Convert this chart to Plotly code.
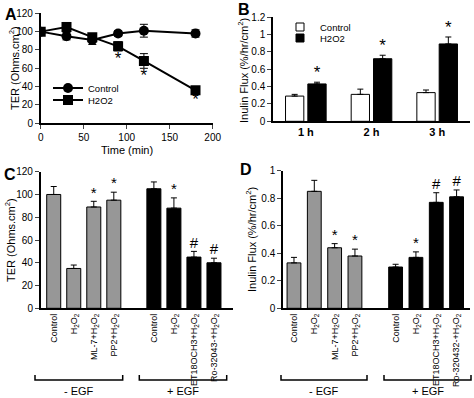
import plotly.graph_objects as go

# ---------------- data ----------------
# Panel A: TER time course
time_min = [0, 30, 60, 90, 120, 180]
ter_control = [100, 95, 91, 98, 101, 98]
ter_control_err = [2, 4, 5, 3, 7, 4]
ter_h2o2 = [100, 105, 94, 84, 68, 36]
ter_h2o2_err = [2, 5, 4, 5, 8, 2]
ter_h2o2_sig = ["", "", "", "*", "*", "*"]

# Panel B: inulin flux over time
b_categories = ["1 h", "2 h", "3 h"]
flux_control = [0.29, 0.31, 0.33]
flux_control_err = [0.02, 0.06, 0.03]
flux_h2o2 = [0.43, 0.72, 0.89]
flux_h2o2_err = [0.02, 0.04, 0.08]
flux_h2o2_sig = ["*", "*", "*"]

# Panel C: TER with inhibitors
c_labels = ["Control", "H<sub>2</sub>O<sub>2</sub>", "ML-7+H<sub>2</sub>O<sub>2</sub>",
            "PP2+H<sub>2</sub>O<sub>2</sub>", "Control", "H<sub>2</sub>O<sub>2</sub>",
            "ET18OCH3+H<sub>2</sub>O<sub>2</sub>", "Ro-32043-+H<sub>2</sub>O<sub>2</sub>"]
c_values = [100, 35, 89, 95, 105, 88, 45, 40]
c_err = [7, 3, 5, 7, 6, 9, 5, 4]
c_sig = ["", "", "*", "*", "", "*", "#", "#"]

# Panel D: inulin flux with inhibitors
d_labels = ["Control", "H<sub>2</sub>O<sub>2</sub>", "ML-7+H<sub>2</sub>O<sub>2</sub>",
            "PP2+H<sub>2</sub>O<sub>2</sub>", "Control", "H<sub>2</sub>O<sub>2</sub>",
            "ET18OCH3+H<sub>2</sub>O<sub>2</sub>", "Ro-320432-+H<sub>2</sub>O<sub>2</sub>"]
d_values = [0.33, 0.85, 0.44, 0.38, 0.30, 0.37, 0.77, 0.81]
d_err = [0.04, 0.08, 0.03, 0.05, 0.02, 0.04, 0.07, 0.05]
d_sig = ["", "", "*", "*", "", "*", "#", "#"]

group_names = ["- EGF", "+ EGF"]
group_sizes = [4, 4]

# ---------------- layout helpers ----------------
W, H = 474, 398
FONT = "Arial, Liberation Sans, sans-serif"
GRAY = "#979797"


def fx(p):
    return p / W


def fy(p):
    return 1 - p / H


def group_positions(sizes):
    pos, start = [], 0
    for s in sizes:
        pos += list(range(start, start + s))
        start += s + 1
    return pos


def bar_colors(sizes):
    cols = []
    for i, s in enumerate(sizes):
        cols += [GRAY if i == 0 else "black"] * s
    return cols


c_pos = group_positions(group_sizes)
d_pos = group_positions(group_sizes)
colors = bar_colors(group_sizes)

fig = go.Figure()

# ---------- Panel A ----------
fig.add_trace(go.Scatter(
    x=time_min, y=ter_control, name="Control", mode="lines+markers",
    line=dict(color="black", width=2), marker=dict(symbol="circle", size=10, color="black"),
    error_y=dict(type="data", array=ter_control_err, color="black", thickness=1, width=4),
    xaxis="x", yaxis="y", legend="legend"))
fig.add_trace(go.Scatter(
    x=time_min, y=ter_h2o2, name="H2O2", mode="lines+markers",
    line=dict(color="black", width=2), marker=dict(symbol="square", size=10, color="black"),
    error_y=dict(type="data", array=ter_h2o2_err, color="black", thickness=1, width=4),
    xaxis="x", yaxis="y", legend="legend3"))
fig.add_trace(go.Scatter(
    x=time_min, y=[v - e for v, e in zip(ter_h2o2, ter_h2o2_err)], text=ter_h2o2_sig,
    mode="text", textposition="bottom center", textfont=dict(size=17, color="black", family=FONT),
    showlegend=False, xaxis="x", yaxis="y", hoverinfo="skip"))

# ---------- Panel B ----------
fig.add_trace(go.Bar(
    x=b_categories, y=flux_control, name="Control", marker=dict(color="white", line=dict(color="black", width=1)),
    error_y=dict(type="data", array=flux_control_err, arrayminus=[0] * 3, symmetric=False,
                 color="black", thickness=1, width=3),
    xaxis="x2", yaxis="y2", showlegend=False))
fig.add_trace(go.Bar(
    x=b_categories, y=flux_h2o2, name="H2O2", marker=dict(color="black", line=dict(color="black", width=1)),
    error_y=dict(type="data", array=flux_h2o2_err, arrayminus=[0] * 3, symmetric=False,
                 color="black", thickness=1, width=3),
    xaxis="x2", yaxis="y2", showlegend=False))
fig.add_trace(go.Scatter(
    x=b_categories, y=[v + e for v, e in zip(flux_h2o2, flux_h2o2_err)], text=flux_h2o2_sig,
    mode="text", textposition="top center", textfont=dict(size=17, color="black", family=FONT),
    showlegend=False, xaxis="x5", yaxis="y2", hoverinfo="skip"))
fig.add_trace(go.Scatter(x=[None], y=[None], name="Control", mode="markers",
                         marker=dict(symbol="square", size=8, color="white", line=dict(color="black", width=1)),
                         xaxis="x2", yaxis="y2", legend="legend2"))
fig.add_trace(go.Scatter(x=[None], y=[None], name="H2O2", mode="markers",
                         marker=dict(symbol="square", size=8, color="black", line=dict(color="black", width=1)),
                         xaxis="x2", yaxis="y2", legend="legend4"))

# ---------- Panel C ----------
fig.add_trace(go.Bar(
    x=c_pos, y=c_values, width=0.7, marker=dict(color=colors, line=dict(color="black", width=1)),
    error_y=dict(type="data", array=c_err, arrayminus=[0] * len(c_err), symmetric=False,
                 color="black", thickness=1, width=3),
    xaxis="x3", yaxis="y3", showlegend=False))
fig.add_trace(go.Scatter(
    x=c_pos, y=[v + e for v, e in zip(c_values, c_err)], text=c_sig,
    mode="text", textposition="top center", textfont=dict(size=15, color="black", family=FONT),
    showlegend=False, xaxis="x3", yaxis="y3", hoverinfo="skip"))

# ---------- Panel D ----------
fig.add_trace(go.Bar(
    x=d_pos, y=d_values, width=0.68, marker=dict(color=colors, line=dict(color="black", width=1)),
    error_y=dict(type="data", array=d_err, arrayminus=[0] * len(d_err), symmetric=False,
                 color="black", thickness=1, width=3),
    xaxis="x4", yaxis="y4", showlegend=False))
fig.add_trace(go.Scatter(
    x=d_pos, y=[v + e for v, e in zip(d_values, d_err)], text=d_sig,
    mode="text", textposition="top center", textfont=dict(size=15, color="black", family=FONT),
    showlegend=False, xaxis="x4", yaxis="y4", hoverinfo="skip"))

axis_common = dict(showline=True, linecolor="black", linewidth=1.5, showgrid=False, zeroline=False,
                   automargin=False)
tickfont = dict(family=FONT, size=10, color="black")
rotfont = dict(family=FONT, size=9, color="black")


def legend_at(px, py):
    return dict(x=fx(px), y=fy(py), xanchor="left", yanchor="middle", bgcolor="rgba(0,0,0,0)",
                font=dict(size=9.5, family=FONT), itemwidth=30, borderwidth=0)


fig.update_layout(
    template="none",
    width=W, height=H, margin=dict(l=0, r=0, t=0, b=0, autoexpand=False),
    paper_bgcolor="white", plot_bgcolor="rgba(0,0,0,0)",
    font=dict(family=FONT, color="black", size=11),
    barmode="group", bargap=0.32, bargroupgap=0.18,
    xaxis=dict(domain=[fx(40.7), fx(212.7)], range=[0, 200], tickvals=[0, 50, 100, 150, 200],
               ticks="outside", ticklen=4, tickwidth=1, anchor="y", tickfont=tickfont, **axis_common),
    yaxis=dict(domain=[fy(123.3), fy(13.3)], range=[0, 120], dtick=20,
               ticks="outside", ticklen=4, tickwidth=1, anchor="x", tickfont=tickfont, **axis_common),
    xaxis2=dict(domain=[fx(273), fx(470)], range=[-0.5, 2.5], anchor="y2", ticks="",
                type="category", tickfont=dict(family=FONT, size=11, color="black", weight="bold"),
                **axis_common),
    xaxis5=dict(domain=[fx(273), fx(470)], range=[-0.5 - 0.17, 2.5 - 0.17], anchor="y2",
                type="category", overlaying="x2", visible=False, automargin=False),
    yaxis2=dict(domain=[fy(121.3), fy(17)], range=[0, 1.2], dtick=0.2,
                ticks="outside", ticklen=4, tickwidth=1, anchor="x2", tickfont=tickfont, **axis_common),
    xaxis3=dict(domain=[fx(40.7), fx(233)], range=[-0.65, 8.95], anchor="y3",
                tickvals=c_pos, ticktext=c_labels, tickangle=-90, ticks="", tickfont=rotfont, **axis_common),
    yaxis3=dict(domain=[fy(308.3), fy(171.7)], range=[0, 120], dtick=20,
                ticks="outside", ticklen=4, tickwidth=1, anchor="x3", tickfont=tickfont, **axis_common),
    xaxis4=dict(domain=[fx(283), fx(470)], range=[-0.54, 8.66], anchor="y4",
                tickvals=d_pos, ticktext=d_labels, tickangle=-90, ticks="", tickfont=rotfont, **axis_common),
    yaxis4=dict(domain=[fy(308.3), fy(170.7)], range=[0, 1], dtick=0.2,
                ticks="outside", ticklen=4, tickwidth=1, anchor="x4", tickfont=tickfont, **axis_common),
    legend=legend_at(48, 88),
    legend3=legend_at(48, 100),
    legend2=legend_at(280, 27),
    legend4=legend_at(280, 38),
)

annotations = []
for letter, (px, py) in zip("ABCD", [(11, 14), (244, 9), (10, 174), (246, 170)]):
    annotations.append(dict(text=f"<b>{letter}</b>", x=fx(px), y=fy(py), font=dict(size=16, family=FONT)))
titles = [
    dict(text="TER (Ohms.cm<sup>2</sup>)", x=fx(14), y=fy(68), textangle=-90),
    dict(text="Time (min)", x=fx(127), y=fy(150)),
    dict(text="Inulin Flux (%/hr/cm<sup>2</sup>)", x=fx(243), y=fy(70), textangle=-90),
    dict(text="TER (Ohms.cm<sup>2</sup>)", x=fx(10), y=fy(240), textangle=-90),
    dict(text="Inulin Flux (%/hr/cm<sup>2</sup>)", x=fx(251), y=fy(240), textangle=-90),
]
for a in titles:
    a.update(font=dict(size=11, family=FONT))
annotations += titles

shapes = []
brackets = [((35, 122.7), (139.3, 226.7)), ((281, 367), (384, 471))]
for panel in brackets:
    for (x0, x1), name in zip(panel, group_names):
        shapes.append(dict(type="path", xref="paper", yref="paper",
                           path=f"M {fx(x0)},{fy(375)} L {fx(x0)},{fy(380)} L {fx(x1)},{fy(380)} L {fx(x1)},{fy(375)}",
                           line=dict(color="black", width=1.5)))
        annotations.append(dict(text=name, x=fx((x0 + x1) / 2), y=fy(391), font=dict(size=11, family=FONT)))

for a in annotations:
    a.update(xref="paper", yref="paper", showarrow=False, xanchor="center", yanchor="middle")

fig.update_layout(annotations=annotations, shapes=shapes)

fig.write_html("out.html", config={"displayModeBar": False},
               post_script="document.body.style.margin='0';document.body.style.padding='0';")
